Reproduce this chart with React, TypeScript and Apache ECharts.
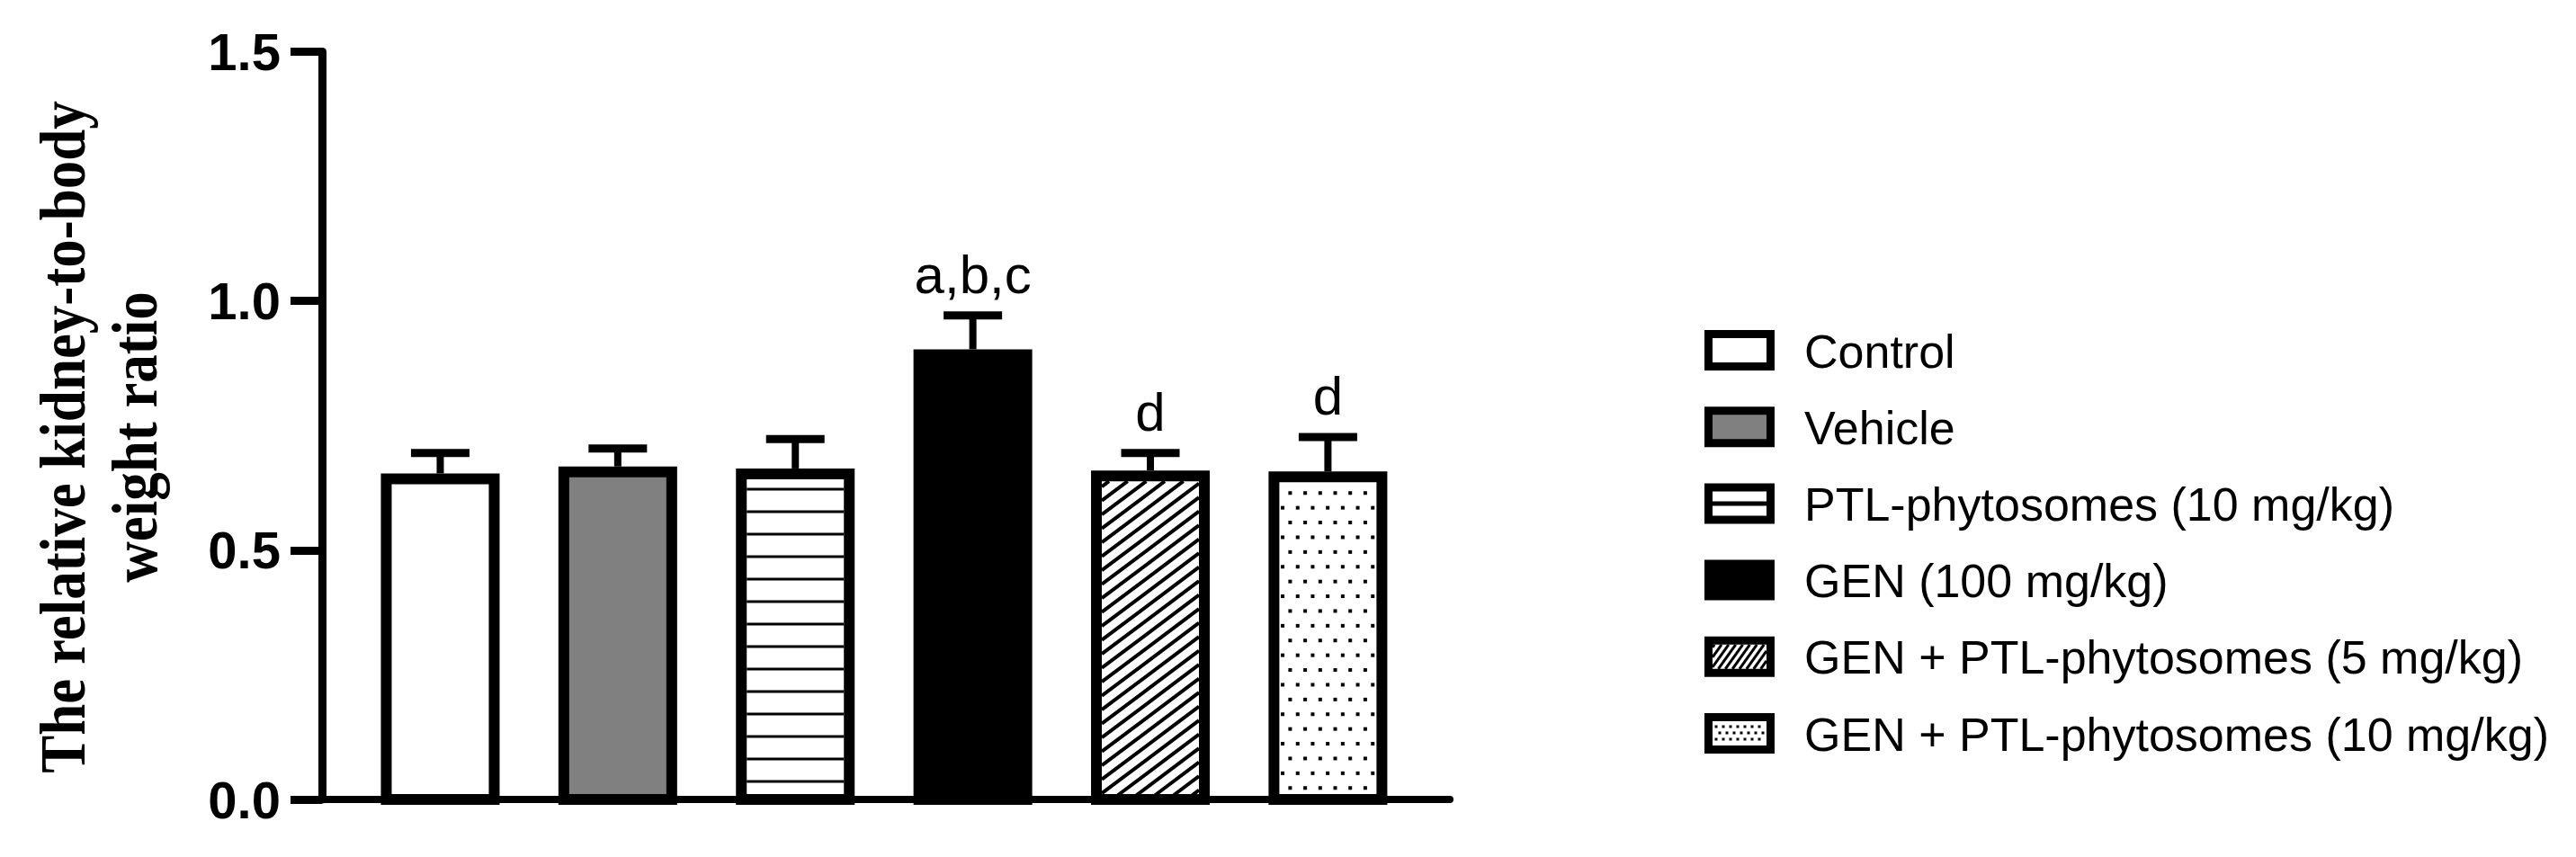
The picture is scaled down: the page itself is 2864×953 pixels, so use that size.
import React, { useEffect, useRef } from 'react';
import * as echarts from 'echarts';

// ---------------- data ----------------
const GROUPS = [
  'Control',
  'Vehicle',
  'PTL-phytosomes (10 mg/kg)',
  'GEN (100 mg/kg)',
  'GEN + PTL-phytosomes (5 mg/kg)',
  'GEN + PTL-phytosomes (10 mg/kg)',
];
const MEANS = [0.654, 0.668, 0.664, 0.903, 0.66, 0.658];
const ERRORS = [0.041, 0.036, 0.059, 0.068, 0.035, 0.069];
const LETTERS = ['', '', '', 'a,b,c', 'd', 'd'];
const Y_TICKS = [0, 0.5, 1.0, 1.5];
const Y_TITLE = 'The relative kidney-to-body\nweight ratio';

// ---------------- styles ----------------
const FILLS = ['#ffffff', '#808080', '#ffffff', '#000000', '#ffffff', '#ffffff'];
const PATTERNS = ['none', 'none', 'hlines', 'none', 'diag', 'dots'];
const SANS = '"Liberation Sans", Arial, Helvetica, sans-serif';
const SERIF = '"Liberation Serif", "Times New Roman", Times, serif';

const BAR_W = 132;
const BORDER = 12;

type PatternParams = {
  hFirst: number; hGap: number; hW: number;
  dSlope: number; dGap: number; dW: number; dPhase: number;
  dotGapX: number; dotGapY: number; dotSize: number; dotX0: number; dotY0: number; dotStagger: number;
};

const BAR_PAT: PatternParams = {
  hFirst: 11, hGap: 25, hW: 3,
  dSlope: 0.75, dGap: 15.5, dW: 4, dPhase: 6,
  dotGapX: 16.7, dotGapY: 16.4, dotSize: 4, dotX0: 12, dotY0: 12, dotStagger: -8.35,
};

const LEG_PAT: PatternParams = {
  hFirst: 13.5, hGap: 1000, hW: 5,
  dSlope: 1.4, dGap: 11, dW: 3, dPhase: 3,
  dotGapX: 8, dotGapY: 7, dotSize: 3, dotX0: 4, dotY0: 6, dotStagger: 4,
};

function patternEls(kind: string, L: number, T: number, R: number, B: number, p: PatternParams) {
  const els: any[] = [];
  if (kind === 'hlines') {
    for (let y = T + p.hFirst; y < B - 1; y += p.hGap) {
      els.push({ type: 'line', shape: { x1: L, y1: y, x2: R, y2: y }, style: { stroke: '#000', lineWidth: p.hW } });
    }
  } else if (kind === 'diag') {
    const W = R - L;
    const s = p.dSlope;
    for (let b = T + p.dPhase; b < B + W * s; b += p.dGap) {
      let x1: number, y1: number, x2: number, y2: number;
      if (b <= B) { x1 = L; y1 = b; } else { x1 = L + (b - B) / s; y1 = B; }
      const yr = b - W * s;
      if (yr >= T) { x2 = R; y2 = yr; } else { x2 = L + (b - T) / s; y2 = T; }
      if (x2 > x1 + 0.5) {
        els.push({ type: 'line', shape: { x1, y1, x2, y2 }, style: { stroke: '#000', lineWidth: p.dW } });
      }
    }
  } else if (kind === 'dots') {
    const h = p.dotSize / 2;
    for (let r = 0, y = T + p.dotY0; y + h <= B; r++, y += p.dotGapY) {
      const off = p.dotX0 + (r % 2 ? p.dotStagger : 0);
      for (let x = L + off; x + h <= R; x += p.dotGapX) {
        if (x - h < L) continue;
        els.push({ type: 'rect', shape: { x: x - h, y: y - h, width: p.dotSize, height: p.dotSize }, style: { fill: '#000' } });
      }
    }
  }
  return els;
}

const renderItem = (params: any, api: any) => {
  const i = api.value(0);
  const mean = api.value(1);
  const err = api.value(2);
  const [cx, top] = api.coord([i, mean]);
  const base = api.coord([i, 0])[1];
  const capY = api.coord([i, mean + err])[1];
  const half = BAR_W / 2;
  const children: any[] = [];
  // error bar (upper)
  children.push({ type: 'line', shape: { x1: cx, y1: top, x2: cx, y2: capY }, style: { stroke: '#000', lineWidth: 8 } });
  children.push({ type: 'line', shape: { x1: cx - 32.5, y1: capY, x2: cx + 32.5, y2: capY }, style: { stroke: '#000', lineWidth: 9 } });
  // bar with thick border
  children.push({
    type: 'rect',
    shape: { x: cx - half + BORDER / 2, y: top + BORDER / 2, width: BAR_W - BORDER, height: base - top - BORDER / 2 },
    style: { fill: FILLS[i], stroke: '#000', lineWidth: BORDER },
  });
  children.push(...patternEls(PATTERNS[i], cx - half + BORDER, top + BORDER, cx + half - BORDER, base - 4, BAR_PAT));
  if (LETTERS[i]) {
    children.push({
      type: 'text', x: cx, y: capY - 15,
      style: { text: LETTERS[i], font: `60px ${SANS}`, fill: '#000', align: 'center', verticalAlign: 'bottom' },
    });
  }
  return { type: 'group', children };
};

function legendEls() {
  const els: any[] = [];
  const x0 = 1895, w = 78, h = 45, b = 9;
  const top0 = 389.5, step = 85.2;
  GROUPS.forEach((name, i) => {
    const c = top0 + i * step;
    els.push({
      type: 'rect',
      shape: { x: x0 + b / 2, y: c - h / 2 + b / 2, width: w - b, height: h - b },
      style: { fill: FILLS[i], stroke: '#000', lineWidth: b },
    });
    els.push(...patternEls(PATTERNS[i], x0 + b, c - h / 2 + b, x0 + w - b, c + h / 2 - b, LEG_PAT));
    els.push({
      type: 'text', x: 2006, y: c + 1,
      style: { text: name, font: `52px ${SANS}`, fill: '#000', align: 'left', verticalAlign: 'middle' },
    });
  });
  return els;
}

export default function App() {
  const ref = useRef<HTMLDivElement>(null);
  useEffect(() => {
    if (!ref.current) return;
    const chart = echarts.init(ref.current, undefined, { renderer: 'svg' });
    const option: any = {
      animation: false,
      backgroundColor: '#ffffff',
      grid: { left: 358, top: 57.5, width: 1254, height: 831.5, containLabel: false },
      xAxis: {
        type: 'value',
        min: -0.666,
        max: 5.687,
        axisLine: { show: true, onZero: false, lineStyle: { color: '#000', width: 8 } },
        axisTick: { show: false },
        axisLabel: { show: false },
        splitLine: { show: false },
      },
      yAxis: {
        type: 'value',
        min: Y_TICKS[0],
        max: Y_TICKS[Y_TICKS.length - 1],
        interval: Y_TICKS[1] - Y_TICKS[0],
        axisLine: { show: true, onZero: false, lineStyle: { color: '#000', width: 9 } },
        axisTick: { show: true, length: 35, lineStyle: { color: '#000', width: 9 } },
        axisLabel: {
          margin: 46,
          color: '#000',
          fontSize: 58,
          fontWeight: 'bold',
          fontFamily: SANS,
          formatter: (v: number) => v.toFixed(1),
        },
        splitLine: { show: false },
      },
      series: [
        {
          type: 'custom',
          coordinateSystem: 'cartesian2d',
          clip: false,
          renderItem,
          encode: { x: 0, y: 1 },
          data: MEANS.map((m, i) => [i, m, ERRORS[i]]),
          z: 5,
        },
      ],
      graphic: {
        elements: [
          {
            type: 'text',
            x: 110,
            y: 486,
            rotation: Math.PI / 2,
            scaleX: 0.875,
            silent: true,
            style: {
              text: Y_TITLE,
              font: `bold 72px ${SERIF}`,
              fill: '#000',
              align: 'center',
              verticalAlign: 'middle',
              lineHeight: 80,
            },
          },
          ...legendEls().map((e) => ({ ...e, silent: true })),
        ],
      },
    };
    chart.setOption(option);
    return () => chart.dispose();
  }, []);
  return (
    <div
      ref={ref}
      style={{ position: 'absolute', left: 0, top: 0, width: 2864, height: 953, background: '#fff' }}
    />
  );
}
